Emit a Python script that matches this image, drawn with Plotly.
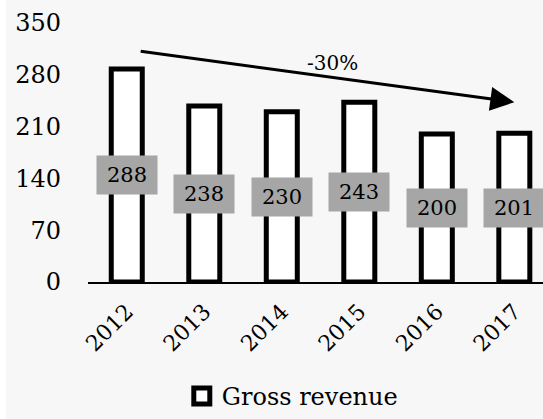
import plotly.graph_objects as go

# Gross revenue by year
years = ["2012", "2013", "2014", "2015", "2016", "2017"]
revenue = [288, 238, 230, 243, 200, 201]
y_ticks = [0, 70, 140, 210, 280, 350]

FONT = "DejaVu Serif"
BG = "#f7f7f7"

fig = go.Figure()
fig.add_trace(go.Bar(
    x=years, y=revenue, name="Gross revenue",
    marker=dict(color="white", line=dict(color="black", width=5)),
    width=0.4, showlegend=False,
))
# legend entry drawn as a thick-outlined square
fig.add_trace(go.Scatter(
    x=[None], y=[None], mode="markers", name="Gross revenue",
    marker=dict(symbol="square", size=17, color="white",
                line=dict(color="black", width=5)),
    showlegend=True, hoverinfo="skip",
))

annotations = []
# value labels in grey boxes at half bar height
for i, v in enumerate(revenue):
    annotations.append(dict(
        x=i, y=v / 2, xref="x", yref="y", text=str(v), showarrow=False,
        bgcolor="#a6a6a6", width=58, height=36,
        font=dict(family=FONT, size=21, color="black"),
    ))

# overall change arrow from first to last year
change = round((revenue[-1] - revenue[0]) / revenue[0] * 100)
annotations.append(dict(
    x=5.0, y=revenue[-1] + 42, ax=0.16, ay=revenue[0] + 24,
    xref="x", yref="y", axref="x", ayref="y",
    showarrow=True, arrowhead=2, arrowsize=1.6, arrowwidth=3, arrowcolor="black",
    text="",
))
annotations.append(dict(
    x=2.65, y=revenue[0] + 8, xref="x", yref="y",
    text=f"{change}%", showarrow=False,
    font=dict(family=FONT, size=20, color="black"),
))

fig.update_layout(
    width=543, height=419,
    margin=dict(l=88, r=0, t=23, b=137),
    paper_bgcolor=BG, plot_bgcolor=BG,
    font=dict(family=FONT, color="black"),
    annotations=annotations,
    showlegend=True,
    legend=dict(
        orientation="h", x=0.449, xanchor="center",
        yref="container", y=0.0, yanchor="bottom",
        font=dict(family=FONT, size=24, color="black"),
        bgcolor="rgba(0,0,0,0)", borderwidth=0,
    ),
    xaxis=dict(
        type="category", range=[-0.5, 5.37], showline=True, linecolor="black",
        linewidth=2, tickangle=-45,
        tickfont=dict(family=FONT, size=22, color="black"),
        showgrid=False, zeroline=False, ticks="", ticklabelstandoff=6,
    ),
    yaxis=dict(
        range=[0, 350], tickvals=y_ticks, showgrid=False, zeroline=False,
        showline=False, ticks="", ticklabelstandoff=26,
        tickfont=dict(family=FONT, size=24, color="black"),
    ),
    shapes=[dict(
        type="rect", xref="paper", yref="paper", layer="below",
        x0=-88 / 455, x1=-82 / 455, y0=-137 / 259, y1=1 + 23 / 259,
        fillcolor="white", line=dict(width=0),
    )],
)

fig.write_html("out.html")
